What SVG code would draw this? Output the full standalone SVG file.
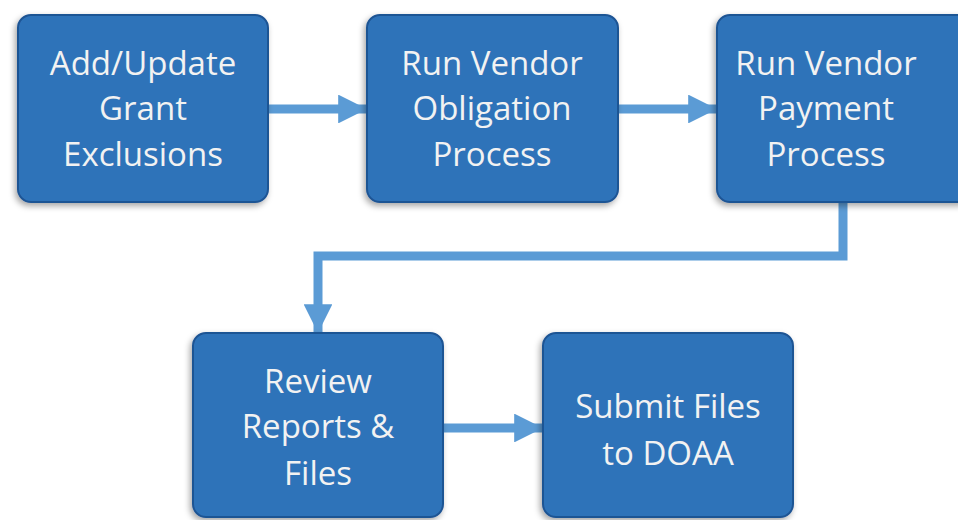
<svg xmlns="http://www.w3.org/2000/svg" width="958" height="520" viewBox="0 0 958 520">
<defs>
<filter id="sh" x="-10%" y="-10%" width="120%" height="125%">
<feDropShadow dx="-2" dy="3" stdDeviation="3" flood-color="#000" flood-opacity="0.35"/>
</filter>
<marker id="ah" markerWidth="3.2" markerHeight="3.2" refX="3.2" refY="1.6" orient="auto" markerUnits="strokeWidth">
<path d="M0,0 L3.2,1.6 L0,3.2 Z" fill="#5b9bd5"/>
</marker>
<style>
.box{fill:#2f73b9;stroke:#1f5494;stroke-width:2;filter:url(#sh)}
.lbl{font-family:"Open Sans","Noto Sans",sans-serif;font-size:33px;fill:#f2f2f2;text-anchor:middle}
.con{fill:none;stroke:#5b9bd5;stroke-width:9;marker-end:url(#ah)}
</style>
</defs>
<rect width="958" height="520" fill="#fff"/>
<g id="connectors">
<path class="con" d="M268,109 L367,109"/>
<path class="con" d="M618,109 L717,109"/>
<path class="con" d="M843,202 L843,256 L318,256 L318,333"/>
<path class="con" d="M443,428 L543,428"/>
</g>
<g id="n1">
<rect class="box" x="18" y="15" width="250" height="187" rx="13"/>
<text class="lbl" x="143" y="75">Add/Update</text>
<text class="lbl" x="143" y="120">Grant</text>
<text class="lbl" x="143" y="166">Exclusions</text>
</g>
<g id="n2">
<rect class="box" x="367" y="15" width="251" height="187" rx="13"/>
<text class="lbl" x="492" y="75">Run Vendor</text>
<text class="lbl" x="492" y="120">Obligation</text>
<text class="lbl" x="492" y="166">Process</text>
</g>
<g id="n3">
<rect class="box" x="717" y="15" width="255" height="187" rx="13"/>
<text class="lbl" x="826" y="75">Run Vendor</text>
<text class="lbl" x="826" y="120">Payment</text>
<text class="lbl" x="826" y="166">Process</text>
</g>
<g id="n4">
<rect class="box" x="193" y="333" width="250" height="184" rx="13"/>
<text class="lbl" x="318" y="393">Review</text>
<text class="lbl" x="318" y="438">Reports &amp;</text>
<text class="lbl" x="318" y="485">Files</text>
</g>
<g id="n5">
<rect class="box" x="543" y="333" width="250" height="184" rx="13"/>
<text class="lbl" x="668" y="418">Submit Files</text>
<text class="lbl" x="668" y="465">to DOAA</text>
</g>
</svg>
